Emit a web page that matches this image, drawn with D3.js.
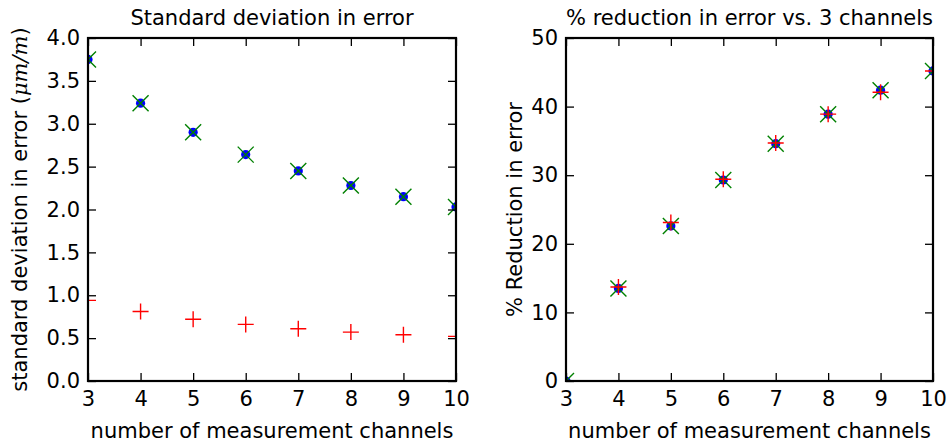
<!DOCTYPE html>
<html lang="en">
<head>
  <meta charset="utf-8">
  <title>Standard deviation in error</title>
  <style>
  body { margin: 0; background: #fff; }
  svg { display: block; font-family: "DejaVu Sans", sans-serif; }
  .axis path { display: none; }
  .axis line { stroke: #000; stroke-width: 1.3; }
  .axis text { font-size: 21px; fill: #000; font-family: "DejaVu Sans", sans-serif; }
  .frame { fill: none; stroke: #000; stroke-width: 2.2; }
  </style>
  <script src="https://cdn.jsdelivr.net/npm/d3@7"></script>
</head>
<body>
<svg width="947" height="443"></svg>
<script>
// number of measurement channels
var channels = [3, 4, 5, 6, 7, 8, 9, 10];

// standard deviation in error (um/m)
var stdBlue = [3.75, 3.24, 2.90, 2.64, 2.45, 2.28, 2.15, 2.03];
var stdRed  = [0.94, 0.81, 0.72, 0.66, 0.61, 0.57, 0.54, 0.52];

// % reduction vs. 3 channels
var redBlue = [0, 13.5, 22.6, 29.3, 34.6, 38.9, 42.4, 45.2];
var redRed  = [0, 13.7, 23.1, 29.4, 34.7, 38.9, 42.1, 45.2];

var leftTicks = [0, 0.5, 1, 1.5, 2, 2.5, 3, 3.5, 4];
var rightTicks = [0, 10, 20, 30, 40, 50];

var svg = d3.select("svg");

var top0 = 38, bottom0 = 381;

function panel(opts) {
  var g = svg.append("g");
  var w = opts.right - opts.left;

  var x = d3.scaleLinear().domain([3, 10]).range([opts.left, opts.right]);
  var y = d3.scaleLinear().domain(opts.ydomain).range([bottom0, top0]);

  var clipId = "clip" + opts.id;
  svg.append("clipPath").attr("id", clipId)
    .append("rect")
      .attr("x", opts.left).attr("y", top0)
      .attr("width", w).attr("height", bottom0 - top0);

  var marks = g.append("g").attr("clip-path", "url(#" + clipId + ")");

  function pts(vals) {
    return channels.map(function(c, i) { return {x: x(c), y: y(vals[i])}; });
  }

  // blue dots
  marks.selectAll(".dot").data(pts(opts.blue)).enter().append("circle")
    .attr("cx", function(d) { return d.x; })
    .attr("cy", function(d) { return d.y; })
    .attr("r", 4.6)
    .attr("fill", "#0000ff");

  // green x over the blue dots
  var s = 8;
  marks.selectAll(".gx").data(pts(opts.blue)).enter().append("path")
    .attr("d", function(d) {
      return "M" + (d.x - s) + "," + (d.y - s) + "L" + (d.x + s) + "," + (d.y + s) +
             "M" + (d.x - s) + "," + (d.y + s) + "L" + (d.x + s) + "," + (d.y - s);
    })
    .attr("stroke", "#008000").attr("stroke-width", 1.4).attr("fill", "none");

  // red plus
  var p = 8;
  marks.selectAll(".rp").data(pts(opts.red)).enter().append("path")
    .attr("d", function(d) {
      return "M" + (d.x - p) + "," + d.y + "L" + (d.x + p) + "," + d.y +
             "M" + d.x + "," + (d.y - p) + "L" + d.x + "," + (d.y + p);
    })
    .attr("stroke", "#ff0000").attr("stroke-width", 1.4).attr("fill", "none");

  // axes, ticks pointing inward on all four sides
  g.append("g").attr("class", "axis")
    .attr("transform", "translate(0," + bottom0 + ")")
    .call(d3.axisBottom(x).tickValues(channels).tickSize(-8).tickPadding(10).tickFormat(d3.format("d")));
  g.append("g").attr("class", "axis")
    .attr("transform", "translate(0," + top0 + ")")
    .call(d3.axisTop(x).tickValues(channels).tickSize(-8).tickFormat(""));
  g.append("g").attr("class", "axis")
    .attr("transform", "translate(" + opts.left + ",0)")
    .call(d3.axisLeft(y).tickValues(opts.yticks).tickSize(-8).tickPadding(8).tickFormat(opts.yfmt));
  g.append("g").attr("class", "axis")
    .attr("transform", "translate(" + opts.right + ",0)")
    .call(d3.axisRight(y).tickValues(opts.yticks).tickSize(-8).tickFormat(""));

  g.append("rect").attr("class", "frame")
    .attr("x", opts.left).attr("y", top0)
    .attr("width", w).attr("height", bottom0 - top0);

  // title
  g.append("text")
    .attr("x", (opts.left + opts.right) / 2)
    .attr("y", 25)
    .attr("text-anchor", "middle")
    .style("font-size", "21px")
    .text(opts.title);

  // x label
  g.append("text")
    .attr("x", (opts.left + opts.right) / 2)
    .attr("y", 438)
    .attr("text-anchor", "middle")
    .style("font-size", "21px")
    .text("number of measurement channels");

  return g;
}

var gl = panel({
  id: "L", left: 88, right: 456,
  ydomain: [0, 4], yticks: leftTicks, yfmt: d3.format(".1f"),
  blue: stdBlue, red: stdRed,
  title: "Standard deviation in error"
});

var ylab = gl.append("text")
  .attr("transform", "translate(27," + ((top0 + bottom0) / 2) + ") rotate(-90)")
  .attr("text-anchor", "middle")
  .style("font-size", "21px");
ylab.append("tspan").text("standard deviation in error (");
ylab.append("tspan").style("font-family", "'DejaVu Serif', serif").style("font-style", "italic").text("μm/m");
ylab.append("tspan").text(")");

var gr = panel({
  id: "R", left: 566, right: 933,
  ydomain: [0, 50], yticks: rightTicks, yfmt: d3.format("d"),
  blue: redBlue, red: redRed,
  title: "% reduction in error vs. 3 channels"
});

gr.append("text")
  .attr("transform", "translate(522," + ((top0 + bottom0) / 2) + ") rotate(-90)")
  .attr("text-anchor", "middle")
  .style("font-size", "21px")
  .text("% Reduction in error");
</script>
</body>
</html>
